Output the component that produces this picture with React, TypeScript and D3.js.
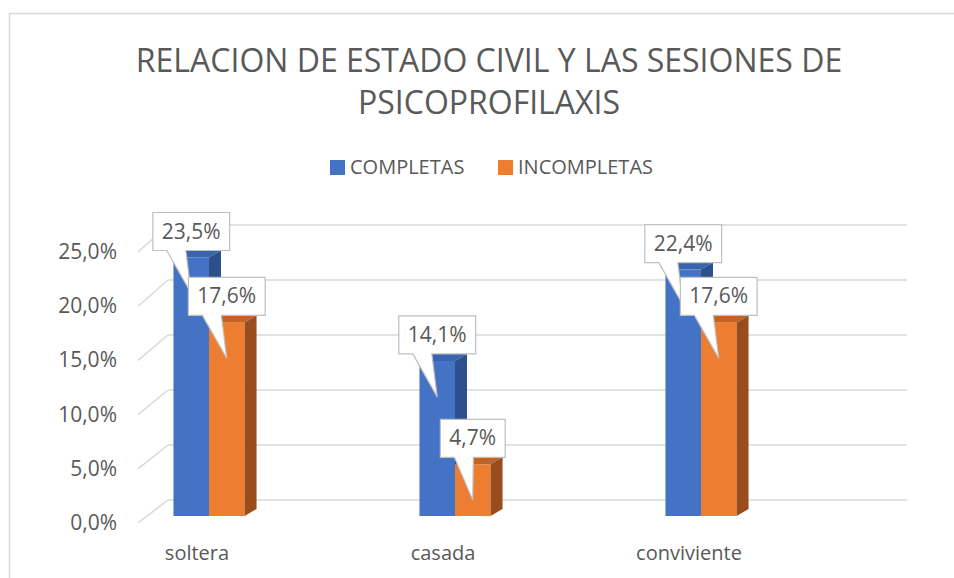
import React, { useRef, useEffect } from 'react'
import * as d3 from 'd3'

// chart data
const categories = ['soltera', 'casada', 'conviviente']
const seriesNames = ['COMPLETAS', 'INCOMPLETAS']
const completas = [23.5, 14.1, 22.4]
const incompletas = [17.6, 4.7, 17.6]
const yTicks = [0, 5, 10, 15, 20, 25]
const titleLines = ['RELACION DE ESTADO CIVIL Y LAS SESIONES DE', 'PSICOPROFILAXIS']

const colors = {
	COMPLETAS: { front: '#4472C4', top: '#3A63AE', side: '#2D4F8C' },
	INCOMPLETAS: { front: '#ED7D31', top: '#C4621F', side: '#9A4D1C' },
}

const fmt = (v: number) => v.toFixed(1).replace('.', ',') + '%'

const App = () => {
	const svgRef = useRef<SVGSVGElement | null>(null)

	const width = 954,
		height = 578
	const font = "'Open Sans', 'Noto Sans', sans-serif"
	const textColor = '#595959'
	const gridColor = '#D9D9D9'

	// depth offset for the 3d look
	const dx = 12,
		dy = -7

	useEffect(() => {
		const svg = d3.select(svgRef.current)
		svg.selectAll('*').remove()

		const x = d3
			.scaleBand()
			.domain(categories)
			.range([86, 824])
			.paddingInner(0.711)
			.paddingOuter(0.3555)
		const xInner = d3.scaleBand().domain(seriesNames).range([0, x.bandwidth()])

		const yBar = d3.scaleLinear().domain([0, 25]).range([516, 241])
		const yBack = d3.scaleLinear().domain([0, 25]).range([500, 225])
		const yFront = d3.scaleLinear().domain([0, 25]).range([523, 252])

		const wallLeftFront = 138,
			wallLeftBack = 168,
			wallRight = 907

		// chart area border
		svg
			.append('rect')
			.attr('x', 9.5)
			.attr('y', 13.5)
			.attr('width', 1000)
			.attr('height', 1000)
			.attr('fill', 'white')
			.attr('stroke', gridColor)
			.attr('stroke-width', 1.5)

		// title
		svg
			.append('g')
			.selectAll('text')
			.data(titleLines)
			.enter()
			.append('text')
			.attr('x', 489)
			.attr('y', (d, i) => 72 + i * 42)
			.attr('text-anchor', 'middle')
			.attr('font-family', font)
			.attr('font-size', 32)
			.attr('fill', textColor)
			.text((d) => d)

		// legend
		const legend = svg.append('g')
		const legendX = [330, 498]
		seriesNames.forEach((s, i) => {
			legend
				.append('rect')
				.attr('x', legendX[i])
				.attr('y', 160)
				.attr('width', 15)
				.attr('height', 15)
				.attr('fill', colors[s as keyof typeof colors].front)
			legend
				.append('text')
				.attr('x', legendX[i] + 20)
				.attr('y', 174)
				.attr('font-family', font)
				.attr('font-size', 20)
				.attr('fill', textColor)
				.text(s)
		})

		// back wall gridlines
		const grid = svg.append('g').attr('stroke', gridColor).attr('stroke-width', 1.5)
		grid
			.selectAll('line.back')
			.data(yTicks)
			.enter()
			.append('line')
			.attr('x1', wallLeftBack)
			.attr('x2', wallRight)
			.attr('y1', (d) => yBack(d))
			.attr('y2', (d) => yBack(d))
		// side wall gridlines
		grid
			.selectAll('line.side')
			.data(yTicks)
			.enter()
			.append('line')
			.attr('x1', wallLeftFront)
			.attr('x2', wallLeftBack)
			.attr('y1', (d) => yFront(d))
			.attr('y2', (d) => yBack(d))

		// y axis labels
		svg
			.append('g')
			.selectAll('text')
			.data(yTicks)
			.enter()
			.append('text')
			.attr('x', 117)
			.attr('y', (d) => yFront(d) + 7)
			.attr('text-anchor', 'end')
			.attr('font-family', font)
			.attr('font-size', 21)
			.attr('fill', textColor)
			.text((d) => fmt(d))

		// category labels
		svg
			.append('g')
			.selectAll('text')
			.data(categories)
			.enter()
			.append('text')
			.attr('x', (d) => x(d)! + x.bandwidth() / 2 - 12)
			.attr('y', 560)
			.attr('text-anchor', 'middle')
			.attr('font-family', font)
			.attr('font-size', 20)
			.attr('fill', textColor)
			.text((d) => d)

		const series = [completas, incompletas]
		const bars = svg.append('g')
		categories.forEach((c, ci) => {
			seriesNames.forEach((s, si) => {
				const v = series[si][ci]
				const col = colors[s as keyof typeof colors]
				const x0 = x(c)! + xInner(s)!
				const x1 = x0 + xInner.bandwidth()
				const y0 = yBar(0)
				const y1 = yBar(v)
				bars
					.append('rect')
					.attr('x', x0)
					.attr('y', y1)
					.attr('width', x1 - x0)
					.attr('height', y0 - y1)
					.attr('fill', col.front)
				bars
					.append('path')
					.attr('d', `M${x0},${y1}L${x0 + dx},${y1 + dy}L${x1 + dx},${y1 + dy}L${x1},${y1}Z`)
					.attr('fill', col.top)
				bars
					.append('path')
					.attr('d', `M${x1},${y1}L${x1 + dx},${y1 + dy}L${x1 + dx},${y0 + dy}L${x1},${y0}Z`)
					.attr('fill', col.side)
			})
		})

		// callout data labels
		const labels = svg.append('g')
		seriesNames.forEach((s, si) => {
			categories.forEach((c, ci) => {
				const v = series[si][ci]
				const cx = x(c)! + xInner(s)! + xInner.bandwidth() / 2
				const top = yBar(v)
				const g = labels.append('g')
				const path = g.append('path')
				const t = g
					.append('text')
					.attr('x', cx)
					.attr('y', top - 7 - 12)
					.attr('text-anchor', 'middle')
					.attr('font-family', font)
					.attr('font-size', 21)
					.attr('fill', textColor)
					.text(fmt(v))
				const tw = (t.node() as SVGTextElement).getComputedTextLength()
				const bw = tw + 18,
					bh = 38
				const bx = cx - bw / 2,
					byBottom = top - 7,
					by = byBottom - bh
				const tipX = cx,
					tipY = top + 36
				path
					.attr(
						'd',
						`M${bx},${by}H${bx + bw}V${byBottom}H${bx + 33}L${tipX},${tipY}L${bx + 14},${byBottom}H${bx}Z`
					)
					.attr('fill', 'white')
					.attr('stroke', '#BFBFBF')
					.attr('stroke-width', 1.2)
			})
		})
	}, [])

	return (
		<svg
			ref={svgRef}
			width={width}
			height={height}
			style={{ position: 'absolute', left: 0, top: 0, background: 'white' }}
		></svg>
	)
}

export default App
